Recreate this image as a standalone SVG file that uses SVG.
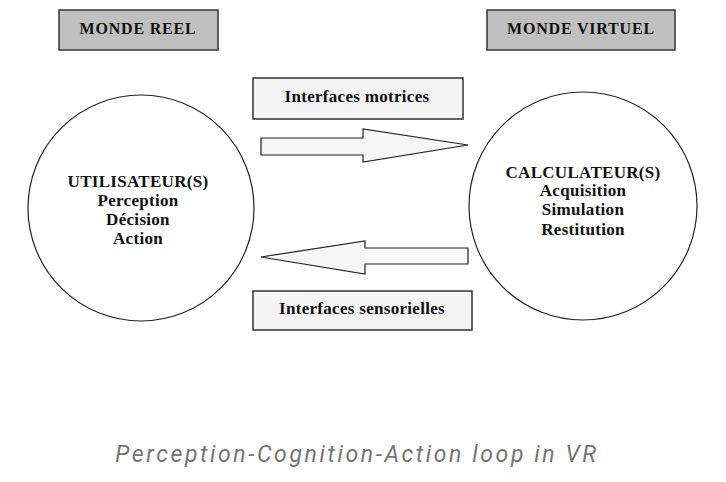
<svg xmlns="http://www.w3.org/2000/svg" width="726" height="482" viewBox="0 0 726 482">
<style>
.t{font-family:"Liberation Serif","Times New Roman",serif;font-weight:bold;fill:#111;text-anchor:middle;font-size:17px;letter-spacing:0.3px}
.hdr{fill:#c0c0c0;stroke:#333;stroke-width:1.5}
.box{fill:#f4f4f4;stroke:#333;stroke-width:1.5}
.circ{fill:#fff;stroke:#222;stroke-width:1.2}
.arr{fill:#f6f6f6;stroke:#222;stroke-width:1.2;stroke-linejoin:miter}
.cap{font-family:Roboto,"Liberation Sans",sans-serif;font-style:italic;font-weight:400;fill:#747474;text-anchor:middle}
</style>
<rect width="726" height="482" fill="#fff"/>
<g id="monde-reel"><rect class="hdr" x="59" y="10" width="159" height="40"/><text class="t" x="138" y="34" style="font-size:16px;letter-spacing:0.8px">MONDE REEL</text></g>
<g id="monde-virtuel"><rect class="hdr" x="487" y="10" width="188" height="40"/><text class="t" x="581" y="34" style="font-size:16px;letter-spacing:0.8px">MONDE VIRTUEL</text></g>
<g id="utilisateurs"><circle class="circ" cx="141" cy="208" r="113"/>
<text class="t" x="138" y="187">UTILISATEUR(S)</text>
<text class="t" x="138" y="206">Perception</text>
<text class="t" x="138" y="225">Décision</text>
<text class="t" x="138" y="244">Action</text></g>
<g id="calculateurs"><circle class="circ" cx="583" cy="206" r="114"/>
<text class="t" x="583" y="178">CALCULATEUR(S)</text>
<text class="t" x="583" y="196">Acquisition</text>
<text class="t" x="583" y="215">Simulation</text>
<text class="t" x="583" y="235">Restitution</text></g>
<g id="interfaces-motrices"><rect class="box" x="253" y="78" width="210" height="41"/><text class="t" x="357" y="102">Interfaces motrices</text></g>
<g id="interfaces-sensorielles"><rect class="box" x="253" y="291" width="219" height="39"/><text class="t" x="362" y="314">Interfaces sensorielles</text></g>
<g id="connectors">
<polygon class="arr" points="261,138 363,138 363,129 468,145 363,162 363,155 261,155"/>
<polygon class="arr" points="468,248 365,248 365,241 261,257 365,274 365,264 468,264"/>
</g>
<text class="cap" x="357" y="462" style="font-size:23px;letter-spacing:2.6px">Perception-Cognition-Action loop in VR</text>
</svg>
